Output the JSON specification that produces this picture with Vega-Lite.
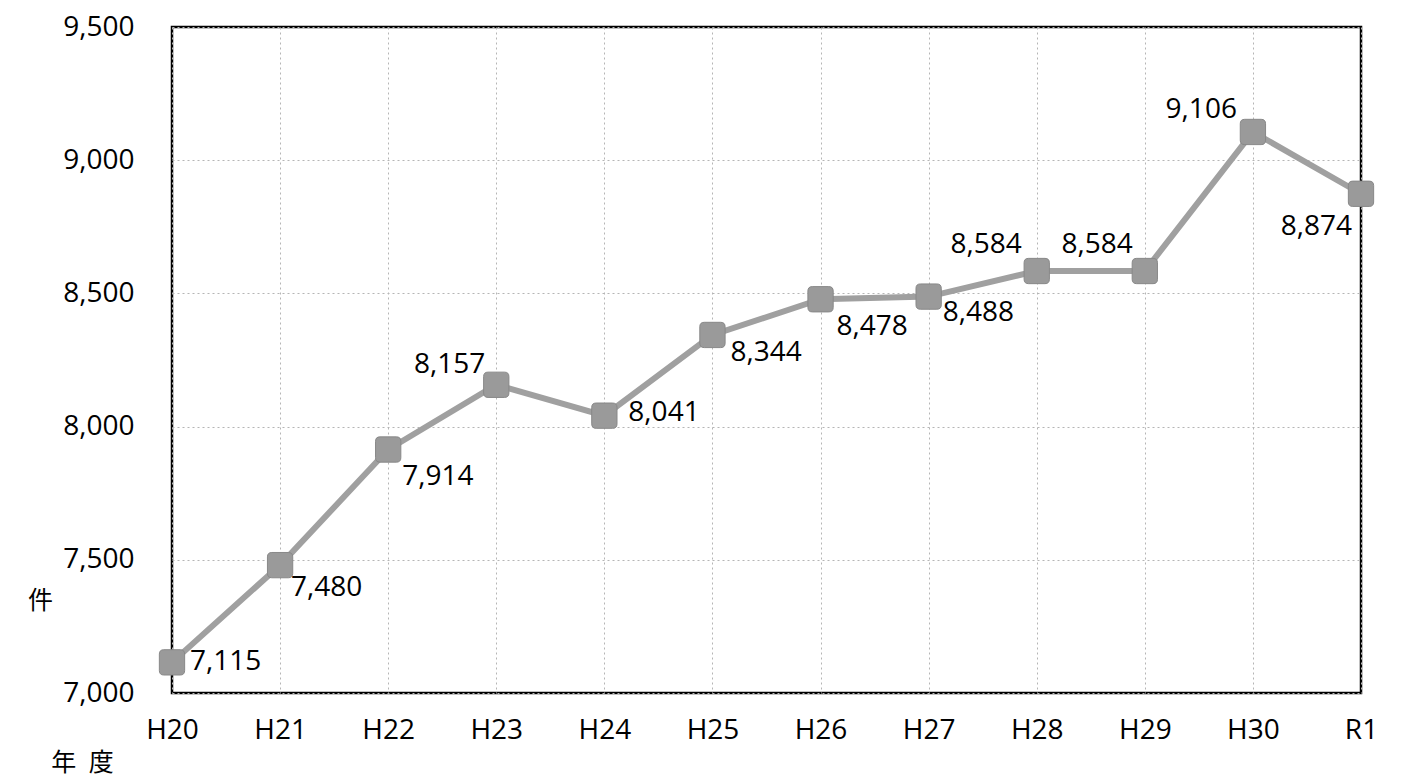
{
  "$schema": "https://vega.github.io/schema/vega-lite/v6.json",
  "autosize": {"type": "none"},
  "width": 1189,
  "height": 666,
  "padding": {"left": 172, "top": 27, "right": 57, "bottom": 86},
  "background": "white",
  "config": {
    "view": {"stroke": "black", "strokeWidth": 2.5},
    "font": "Open Sans"
  },
  "data": {
    "values": [
      {"year": "H20", "count": 7115},
      {"year": "H21", "count": 7480},
      {"year": "H22", "count": 7914},
      {"year": "H23", "count": 8157},
      {"year": "H24", "count": 8041},
      {"year": "H25", "count": 8344},
      {"year": "H26", "count": 8478},
      {"year": "H27", "count": 8488},
      {"year": "H28", "count": 8584},
      {"year": "H29", "count": 8584},
      {"year": "H30", "count": 9106},
      {"year": "R1", "count": 8874}
    ]
  },
  "encoding": {
    "x": {
      "field": "year", "type": "ordinal", "sort": null,
      "scale": {"type": "point", "padding": 0},
      "axis": {
        "title": "年\u2002度", "titleFont": "Noto Sans CJK JP", "titleFontSize": 25, "titleFontWeight": "normal",
        "titleColor": "black", "titleAngle": 0, "titleX": -90, "titleY": 69, "titleAlign": "center", "titleBaseline": "middle",
        "labelAngle": 0, "labelFontSize": 28, "labelColor": "black", "labelPadding": 23,
        "ticks": false, "domain": false,
        "grid": true, "gridColor": "#b5b5b5", "gridDash": [2, 3], "gridWidth": 1
      }
    },
    "y": {
      "field": "count", "type": "quantitative",
      "scale": {"domain": [7000, 9500], "nice": false, "zero": false},
      "axis": {
        "title": "件", "titleFont": "Noto Sans CJK JP", "titleFontSize": 25, "titleFontWeight": "normal",
        "titleColor": "black", "titleAngle": 0, "titleX": -132, "titleY": 573, "titleAlign": "center", "titleBaseline": "middle",
        "values": [7000, 7500, 8000, 8500, 9000, 9500], "format": ",d",
        "labelFontSize": 28, "labelColor": "black", "labelPadding": 38,
        "ticks": false, "domain": false,
        "grid": true, "gridColor": "#b5b5b5", "gridDash": [2, 3], "gridWidth": 1
      }
    }
  },
  "layer": [
    {"mark": {"type": "line", "color": "#a0a0a0", "strokeWidth": 6}, "encoding": {}},
    {"mark": {"type": "point", "shape": "M -0.65,-1 L 0.65,-1 Q 1,-1 1,-0.65 L 1,0.65 Q 1,1 0.65,1 L -0.65,1 Q -1,1 -1,0.65 L -1,-0.65 Q -1,-1 -0.65,-1 Z", "size": 640, "filled": true, "fill": "#9a9a9a", "stroke": "#888888", "strokeWidth": 1, "opacity": 1}, "encoding": {}},
    {"transform": [{"filter": "datum.year == 'H20'"}], "mark": {"type": "text", "align": "left", "baseline": "middle", "dx": 18, "dy": 0, "fontSize": 28, "color": "black"}, "encoding": {"text": {"field": "count", "type": "quantitative", "format": ",d"}}},
    {"transform": [{"filter": "datum.year == 'H21'"}], "mark": {"type": "text", "align": "left", "baseline": "middle", "dx": 11, "dy": 23, "fontSize": 28, "color": "black"}, "encoding": {"text": {"field": "count", "type": "quantitative", "format": ",d"}}},
    {"transform": [{"filter": "datum.year == 'H22'"}], "mark": {"type": "text", "align": "left", "baseline": "middle", "dx": 14, "dy": 27, "fontSize": 28, "color": "black"}, "encoding": {"text": {"field": "count", "type": "quantitative", "format": ",d"}}},
    {"transform": [{"filter": "datum.year == 'H23'"}], "mark": {"type": "text", "align": "right", "baseline": "middle", "dx": -11, "dy": -20, "fontSize": 28, "color": "black"}, "encoding": {"text": {"field": "count", "type": "quantitative", "format": ",d"}}},
    {"transform": [{"filter": "datum.year == 'H24'"}], "mark": {"type": "text", "align": "left", "baseline": "middle", "dx": 24, "dy": -3, "fontSize": 28, "color": "black"}, "encoding": {"text": {"field": "count", "type": "quantitative", "format": ",d"}}},
    {"transform": [{"filter": "datum.year == 'H25'"}], "mark": {"type": "text", "align": "left", "baseline": "middle", "dx": 18, "dy": 18, "fontSize": 28, "color": "black"}, "encoding": {"text": {"field": "count", "type": "quantitative", "format": ",d"}}},
    {"transform": [{"filter": "datum.year == 'H26'"}], "mark": {"type": "text", "align": "left", "baseline": "middle", "dx": 16, "dy": 28, "fontSize": 28, "color": "black"}, "encoding": {"text": {"field": "count", "type": "quantitative", "format": ",d"}}},
    {"transform": [{"filter": "datum.year == 'H27'"}], "mark": {"type": "text", "align": "left", "baseline": "middle", "dx": 14, "dy": 16, "fontSize": 28, "color": "black"}, "encoding": {"text": {"field": "count", "type": "quantitative", "format": ",d"}}},
    {"transform": [{"filter": "datum.year == 'H28'"}], "mark": {"type": "text", "align": "right", "baseline": "middle", "dx": -15, "dy": -26, "fontSize": 28, "color": "black"}, "encoding": {"text": {"field": "count", "type": "quantitative", "format": ",d"}}},
    {"transform": [{"filter": "datum.year == 'H29'"}], "mark": {"type": "text", "align": "right", "baseline": "middle", "dx": -12, "dy": -26, "fontSize": 28, "color": "black"}, "encoding": {"text": {"field": "count", "type": "quantitative", "format": ",d"}}},
    {"transform": [{"filter": "datum.year == 'H30'"}], "mark": {"type": "text", "align": "right", "baseline": "middle", "dx": -16, "dy": -22, "fontSize": 28, "color": "black"}, "encoding": {"text": {"field": "count", "type": "quantitative", "format": ",d"}}},
    {"transform": [{"filter": "datum.year == 'R1'"}], "mark": {"type": "text", "align": "right", "baseline": "middle", "dx": -9, "dy": 33, "fontSize": 28, "color": "black"}, "encoding": {"text": {"field": "count", "type": "quantitative", "format": ",d"}}}
  ]
}
